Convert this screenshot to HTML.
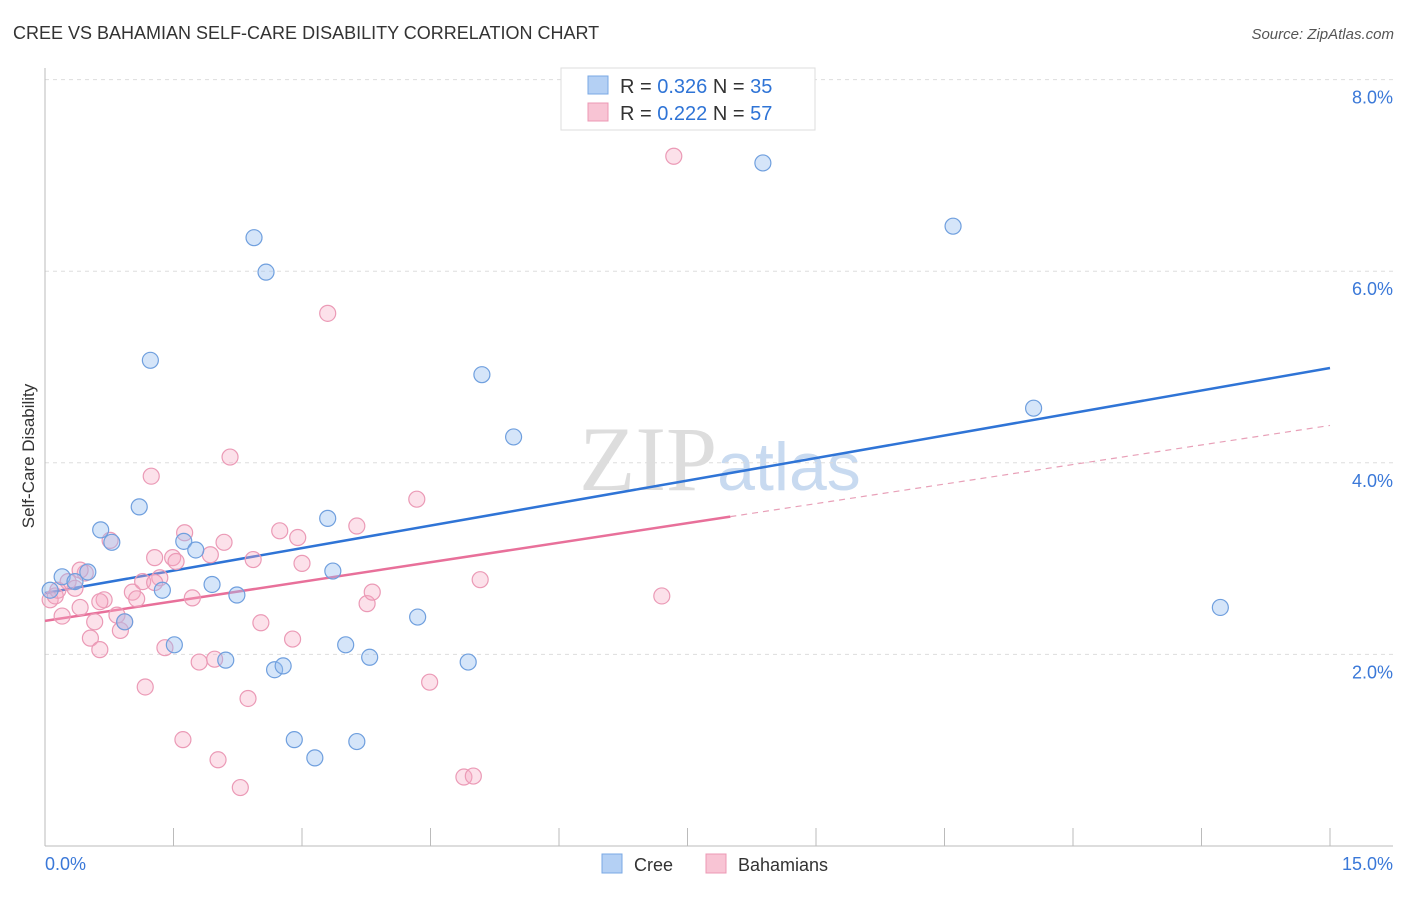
<!DOCTYPE html>
<html><head><meta charset="utf-8"><style>
body{margin:0;background:#fff;font-family:"Liberation Sans",sans-serif;}
</style></head><body>
<svg width="1406" height="892" xmlns="http://www.w3.org/2000/svg" style="font-family:'Liberation Sans',sans-serif">
<text x="13" y="39" font-size="18" fill="#333">CREE VS BAHAMIAN SELF-CARE DISABILITY CORRELATION CHART</text>
<text x="1394" y="39" font-size="15" fill="#555" font-style="italic" text-anchor="end">Source: ZipAtlas.com</text>
<text x="720" y="490" font-size="92" fill="#ddd" text-anchor="middle" font-family="Liberation Serif">ZIP<tspan fill="#c8daf0" font-family="Liberation Sans" font-size="68">atlas</tspan></text>
<text transform="translate(34,456) rotate(-90)" font-size="17" fill="#333" text-anchor="middle">Self-Care Disability</text>
<g id="grid"></g><g id="axes"></g><g id="lines"></g><g id="pts"></g>
<g>
<rect x="561" y="68" width="254" height="62" fill="#fff" stroke="#ddd"/>
<rect x="588" y="76" width="20" height="18" fill="#b4d0f4" stroke="#7aa8e4"/>
<rect x="588" y="103" width="20" height="18" fill="#f8c4d4" stroke="#ec98b4"/>
<text x="620" y="93" font-size="20" fill="#333">R = <tspan fill="#2f74d6">0.326</tspan>   N = <tspan fill="#2f74d6">35</tspan></text>
<text x="620" y="120" font-size="20" fill="#333">R = <tspan fill="#2f74d6">0.222</tspan>   N = <tspan fill="#2f74d6">57</tspan></text>
</g>
<g>
<rect x="602" y="854" width="20" height="19" fill="#b4d0f4" stroke="#7aa8e4"/>
<text x="634" y="871" font-size="18" fill="#333">Cree</text>
<rect x="706" y="854" width="20" height="19" fill="#f8c4d4" stroke="#ec98b4"/>
<text x="738" y="871" font-size="18" fill="#333">Bahamians</text>
</g>
</svg>
<script>
const creeX=[0.06,0.20,0.35,0.50,0.65,0.78,1.10,1.23,1.37,1.51,1.62,1.76,1.95,2.11,2.24,2.44,2.58,2.68,2.78,2.91,3.15,3.30,3.36,3.51,3.64,3.79,4.35,4.94,5.10,5.47,8.38,10.60,11.54,13.72,0.93];
const creeY=[2.67,2.81,2.76,2.86,3.30,3.17,3.54,5.07,2.67,2.10,3.18,3.09,2.73,1.94,2.62,6.35,5.99,1.84,1.88,1.11,0.92,3.42,2.87,2.10,1.09,1.97,2.39,1.92,4.92,4.27,7.13,6.47,4.57,2.49,2.34];
const bahX=[0.06,0.12,0.20,0.27,0.35,0.41,0.47,0.53,0.58,0.64,0.69,0.76,0.84,0.88,0.93,1.02,1.07,1.14,1.17,1.24,1.28,1.34,1.40,1.49,1.53,1.61,1.63,1.72,1.80,1.93,1.98,2.02,2.09,2.16,2.28,2.37,2.43,2.52,2.74,2.89,2.95,3.00,3.30,3.64,3.76,3.82,4.34,4.49,4.89,5.00,5.08,7.20,7.34,1.28,0.15,0.64,0.41];
const bahY=[2.57,2.61,2.40,2.76,2.69,2.49,2.85,2.17,2.34,2.05,2.57,3.19,2.41,2.25,2.34,2.65,2.58,2.76,1.66,3.86,3.01,2.80,2.07,3.01,2.97,1.11,3.27,2.59,1.92,3.04,1.95,0.90,3.17,4.06,0.61,1.54,2.99,2.33,3.29,2.16,3.22,2.95,5.56,3.34,2.53,2.65,3.62,1.71,0.72,0.73,2.78,2.61,7.20,2.75,2.67,2.55,2.88];
const yTicks=[2,4,6,8];
const yTickLabels=["2.0%","4.0%","6.0%","8.0%"];
const xTicks=[0,1.5,3,4.5,6,7.5,9,10.5,12,13.5,15];
const creeTrend=[2.64,4.99];
const bahTrend=[2.35,4.39];
const bahSolidEnd=8.0;
const NS="http://www.w3.org/2000/svg";
const X=v=>45+v*1285/15, Y=v=>846-v*95.8;
function mk(p,t,a){const e=document.createElementNS(NS,t);for(const k in a)e.setAttribute(k,a[k]);document.getElementById(p).appendChild(e);return e;}
yTicks.forEach((t,i)=>{
 const g=mk('grid','line',{x1:45,x2:1393,y1:Y(t),y2:Y(t),stroke:'#ddd','stroke-dasharray':'4,4'});
 
 
 const l=mk('grid','text',{x:1393,y:Y(t)+24,'text-anchor':'end','font-size':18,fill:'#3a78d8'});
 l.textContent=yTickLabels[i];
 
 
});
mk('axes','line',{x1:45,x2:45,y1:68,y2:846,stroke:'#bbb'});
const xa=mk('axes','line',{x1:45,x2:1393,y1:846,y2:846,stroke:'#bbb'});


xTicks.forEach(t=>{const e=mk('axes','line',{x1:X(t),x2:X(t),y1:828,y2:846,stroke:'#bbb'});
 
 });
const x0=mk('axes','text',{x:45,y:870,'font-size':18,fill:'#3a78d8'});x0.textContent="0.0%";


const x1=mk('axes','text',{x:1393,y:870,'font-size':18,fill:'#3a78d8','text-anchor':'end'});x1.textContent="15.0%";


const lin=(tr,x)=>tr[0]+(tr[1]-tr[0])*x/15;
const cl=mk('lines','line',{x1:X(0),y1:Y(lin(creeTrend,0)),x2:X(15),y2:Y(lin(creeTrend,15)),stroke:'#2f74d6','stroke-width':2.5});


const bl=mk('lines','line',{x1:X(0),y1:Y(lin(bahTrend,0)),x2:X(bahSolidEnd),y2:Y(lin(bahTrend,bahSolidEnd)),stroke:'#e8709a','stroke-width':2.5});


const bd=mk('lines','line',{x1:X(bahSolidEnd),y1:Y(lin(bahTrend,bahSolidEnd)),x2:X(15),y2:Y(lin(bahTrend,15)),stroke:'#e8a0b8','stroke-width':1.2,'stroke-dasharray':'6,5'});


bahX.forEach((x,i)=>{const c=mk('pts','circle',{cx:X(x),cy:Y(bahY[i]),r:8,fill:'rgba(245,170,195,0.35)',stroke:'#eb9ab6','stroke-width':1.2});
 
 });
creeX.forEach((x,i)=>{const c=mk('pts','circle',{cx:X(x),cy:Y(creeY[i]),r:8,fill:'rgba(150,190,240,0.4)',stroke:'#6f9fde','stroke-width':1.2});
 
 });
</script>
</body></html>
